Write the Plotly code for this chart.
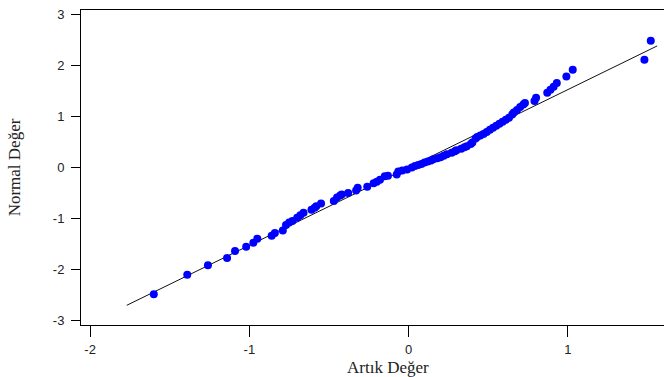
import plotly.graph_objects as go

# Residuals (Artık Değer) and normal scores (Normal Değer)
residuals = [-1.60, -1.39, -1.26, -1.14, -1.09, -1.02, -0.975, -0.95, -0.86, -0.84,
             -0.79, -0.77, -0.75, -0.73, -0.70, -0.68, -0.66, -0.61, -0.59, -0.58,
             -0.55, -0.47, -0.45, -0.43, -0.42, -0.38, -0.33, -0.32, -0.26, -0.22,
             -0.20, -0.18, -0.15, -0.13, -0.075, -0.065, -0.04, -0.01, 0.02, 0.04,
             0.06, 0.08, 0.10, 0.12, 0.14, 0.155, 0.18, 0.20, 0.22, 0.24,
             0.27, 0.29, 0.30, 0.33, 0.35, 0.365, 0.39, 0.40, 0.42, 0.43,
             0.45, 0.47, 0.49, 0.51, 0.53, 0.55, 0.57, 0.59, 0.61, 0.63,
             0.65, 0.66, 0.68, 0.70, 0.72, 0.73, 0.79, 0.80, 0.87, 0.89,
             0.91, 0.93, 0.99, 1.03, 1.48, 1.52]
normal_scores = [-2.49, -2.11, -1.92, -1.78, -1.64, -1.56, -1.48, -1.40, -1.34, -1.29,
                 -1.24, -1.13, -1.08, -1.05, -0.99, -0.94, -0.89, -0.83, -0.79, -0.76,
                 -0.71, -0.66, -0.59, -0.55, -0.53, -0.50, -0.45, -0.40, -0.38, -0.31,
                 -0.28, -0.24, -0.17, -0.16, -0.14, -0.08, -0.06, -0.04, 0.00, 0.03,
                 0.05, 0.07, 0.10, 0.12, 0.14, 0.16, 0.18, 0.20, 0.23, 0.26,
                 0.29, 0.32, 0.34, 0.37, 0.40, 0.42, 0.46, 0.49, 0.57, 0.60,
                 0.63, 0.66, 0.70, 0.74, 0.78, 0.82, 0.86, 0.90, 0.94, 0.98,
                 1.04, 1.08, 1.13, 1.19, 1.24, 1.27, 1.31, 1.37, 1.47, 1.53,
                 1.59, 1.66, 1.79, 1.92, 2.12, 2.49]

# Reference line endpoints
ref_x = [-1.77, 1.56]
ref_y = [-2.71, 2.39]

x_ticks = [-2, -1, 0, 1]
y_ticks = [-3, -2, -1, 0, 1, 2, 3]

fig = go.Figure()
fig.add_trace(go.Scatter(x=ref_x, y=ref_y, mode="lines",
                         line=dict(color="#111111", width=1), showlegend=False,
                         hoverinfo="skip"))
fig.add_trace(go.Scatter(x=residuals, y=normal_scores, mode="markers",
                         marker=dict(color="#0000FF", size=8, line=dict(width=0)),
                         showlegend=False))

tick_font = dict(family="Liberation Sans, Arial, sans-serif", size=13, color="#222222")
title_font = dict(family="Liberation Serif, Times New Roman, serif", size=17, color="#222222")

fig.update_layout(
    width=664, height=377,
    margin=dict(l=81, r=0, t=10, b=52),
    paper_bgcolor="white", plot_bgcolor="white",
    xaxis=dict(range=[-2.057, 1.603], tickvals=x_ticks, ticktext=[str(v) for v in x_ticks],
               showgrid=False, zeroline=False, showline=True, mirror=True,
               linecolor="black", linewidth=1, ticks="outside", ticklen=11,
               tickcolor="black", tickfont=tick_font, ticklabelstandoff=1),
    yaxis=dict(range=[-3.097, 3.097], tickvals=y_ticks, ticktext=[str(v) for v in y_ticks],
               showgrid=False, zeroline=False, showline=True, mirror=False,
               linecolor="black", linewidth=1, ticks="outside", ticklen=9,
               tickcolor="black", tickfont=tick_font, ticklabelstandoff=4,
               title=dict(text="Normal Değer", font=title_font, standoff=27)),
    annotations=[dict(text="Artık Değer", xref="paper", yref="paper",
                      x=(387.5 - 81) / 583, y=-(367 - 325) / 315,
                      xanchor="center", yanchor="middle", showarrow=False,
                      font=title_font)],
)

fig.write_html("out.html")
